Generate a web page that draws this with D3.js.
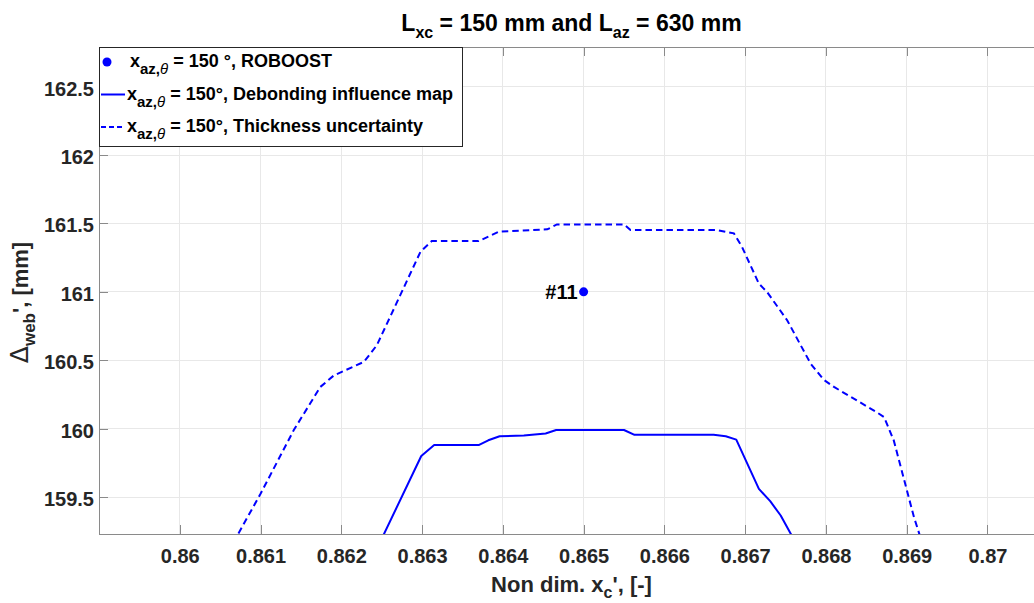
<!DOCTYPE html>
<html>
<head>
<meta charset="utf-8">
<script src="https://cdn.jsdelivr.net/npm/d3@7"></script>
<style>
  html, body { margin: 0; padding: 0; background: #fff; }
  svg { display: block; font-family: "Liberation Sans", Arial, Helvetica, sans-serif; }
</style>
</head>
<body>
<svg id="chart" width="1034" height="603"></svg>
<script>
// Axis limits and ticks
const xLimits = [0.859, 0.8707];
const yLimits = [159.23, 162.79];
const xTicks = [0.86, 0.861, 0.862, 0.863, 0.864, 0.865, 0.866, 0.867, 0.868, 0.869, 0.87];
const yTicks = [159.5, 160, 160.5, 161, 161.5, 162, 162.5];

// Debonding influence map, x_az,θ = 150°
const debondX = [0.8625, 0.86299, 0.86315, 0.8637, 0.86382, 0.86396, 0.86426, 0.86453, 0.86466,
                 0.8655, 0.86563, 0.86661, 0.86676, 0.86689, 0.86717, 0.86731, 0.86744, 0.86765];
const debondY = [159.195, 159.80, 159.88, 159.88, 159.915, 159.945, 159.95, 159.965, 159.99,
                 159.99, 159.955, 159.955, 159.944, 159.92, 159.56, 159.47, 159.365, 159.14];

// Thickness uncertainty envelope, x_az,θ = 150°
const thickX = [0.8606, 0.861, 0.86141, 0.86174, 0.86191, 0.86228, 0.86244, 0.86273, 0.86298, 0.86312,
                0.8637, 0.86395, 0.86455, 0.86467, 0.8655, 0.86558, 0.86665, 0.86686, 0.86696, 0.86717,
                0.86727, 0.86752, 0.86781, 0.86797, 0.8681, 0.86863, 0.86872, 0.86884, 0.86909, 0.8692];
const thickY = [159.10, 159.524, 159.988, 160.305, 160.39, 160.488, 160.61, 160.976, 161.293, 161.371,
                161.371, 161.44, 161.457, 161.493, 161.493, 161.452, 161.452, 161.428, 161.33, 161.06,
                161.0, 160.793, 160.476, 160.359, 160.305, 160.12, 160.085, 159.914, 159.353, 159.15];

// ROBOOST design point
const roboostX = [0.865];
const roboostY = [161];
const roboostLabels = ["#11"];

const blue = "#0000ff";
const axisGray = "#8a8a8a";
const textDark = "#262626";

const svg = d3.select("#chart");
const plot = { left: 99, right: 1044, top: 47, bottom: 534 };

const x = d3.scaleLinear().domain(xLimits).range([plot.left, plot.right]);
const y = d3.scaleLinear().domain(yLimits).range([plot.bottom, plot.top]);

svg.append("defs").append("clipPath").attr("id", "plotClip")
  .append("rect")
  .attr("x", plot.left).attr("y", plot.top)
  .attr("width", plot.right - plot.left).attr("height", plot.bottom - plot.top);

// Grid
const grid = svg.append("g").attr("class", "grid");
grid.selectAll("line.gx").data(xTicks).join("line")
  .attr("x1", d => x(d)).attr("x2", d => x(d))
  .attr("y1", plot.top).attr("y2", plot.bottom)
  .attr("stroke", "#e8e8e8").attr("stroke-width", 1).attr("shape-rendering", "crispEdges");
grid.selectAll("line.gy").data(yTicks).join("line")
  .attr("x1", plot.left).attr("x2", plot.right)
  .attr("y1", d => y(d)).attr("y2", d => y(d))
  .attr("stroke", "#e8e8e8").attr("stroke-width", 1).attr("shape-rendering", "crispEdges");

// Axes
function styleAxis(g) {
  g.select(".domain").attr("stroke", axisGray).attr("shape-rendering", "crispEdges");
  g.selectAll(".tick line").attr("stroke", axisGray).attr("shape-rendering", "crispEdges");
  g.selectAll(".tick text").attr("fill", textDark)
    .attr("font-size", 20).attr("font-weight", "bold")
    .attr("font-family", "Liberation Sans, Arial, sans-serif");
}

svg.append("g").attr("transform", `translate(0,${plot.bottom})`)
  .call(d3.axisBottom(x).tickValues(xTicks).tickSize(-9).tickSizeOuter(0).tickPadding(15)
        .tickFormat(d3.format("~g")))
  .call(styleAxis);

svg.append("g").attr("transform", `translate(0,${plot.top})`)
  .call(d3.axisTop(x).tickValues(xTicks).tickSize(-9).tickSizeOuter(0).tickFormat(""))
  .call(styleAxis);

svg.append("g").attr("transform", `translate(${plot.left},0)`)
  .call(d3.axisLeft(y).tickValues(yTicks).tickSize(-9).tickSizeOuter(0).tickPadding(5)
        .tickFormat(d3.format("~g")))
  .call(styleAxis)
  .call(g => g.selectAll(".tick text").attr("dy", "0.42em"));

// Series
const area = svg.append("g").attr("clip-path", "url(#plotClip)");
const line = d3.line().x(d => x(d[0])).y(d => y(d[1]));

area.append("path")
  .datum(debondX.map((v, i) => [v, debondY[i]]))
  .attr("d", line).attr("fill", "none")
  .attr("stroke", blue).attr("stroke-width", 2).attr("stroke-linejoin", "round");

area.append("path")
  .datum(thickX.map((v, i) => [v, thickY[i]]))
  .attr("d", line).attr("fill", "none")
  .attr("stroke", blue).attr("stroke-width", 2).attr("stroke-dasharray", "6.5,4");

area.selectAll("circle.pt").data(roboostX).join("circle")
  .attr("cx", d => x(d)).attr("cy", (d, i) => y(roboostY[i])).attr("r", 4.5)
  .attr("fill", blue);

area.selectAll("text.pt").data(roboostX).join("text")
  .attr("x", d => x(d) - 6).attr("y", (d, i) => y(roboostY[i]))
  .attr("dy", "0.36em").attr("text-anchor", "end")
  .attr("font-size", 20).attr("font-weight", "bold").attr("fill", "#000")
  .text((d, i) => roboostLabels[i]);

// Text with subscripts; a part may carry its own font settings
function rich(sel, parts, size, subSize, subShift) {
  parts.forEach(p => {
    const t = sel.append("tspan").text(p.t);
    t.attr("font-size", p.size || (p.sub ? subSize : size));
    if (p.sub) t.attr("baseline-shift", -subShift);
    if (p.weight) t.attr("font-weight", p.weight);
    if (p.family) t.attr("font-family", p.family);
    if (p.italic) t.attr("font-style", "italic");
  });
  return sel;
}

// Title
rich(svg.append("text")
  .attr("x", (plot.left + plot.right) / 2).attr("y", 31)
  .attr("text-anchor", "middle").attr("font-weight", "bold").attr("fill", "#000"),
  [{ t: "L" }, { t: "xc", sub: true }, { t: " = 150 mm and L" }, { t: "az", sub: true }, { t: " = 630 mm" }],
  23, 16, 7);

// X label
rich(svg.append("text")
  .attr("x", (plot.left + plot.right) / 2).attr("y", 592)
  .attr("text-anchor", "middle").attr("font-weight", "bold").attr("fill", textDark),
  [{ t: "Non dim. x" }, { t: "c", sub: true }, { t: "', [-]" }],
  22, 16, 6);

// Y label
rich(svg.append("text")
  .attr("transform", `translate(28,${(plot.top + plot.bottom) / 2 + 12}) rotate(-90)`)
  .attr("text-anchor", "middle").attr("font-weight", "bold").attr("fill", textDark),
  [{ t: "\u0394", size: 25, weight: "normal", family: "DejaVu Sans, sans-serif" },
   { t: "web", sub: true }, { t: "', [mm]" }],
  22, 17, 7);

// Legend
const legendItems = [
  { kind: "marker", text: " = 150 °, ROBOOST" },
  { kind: "solid", text: " = 150°, Debonding influence map" },
  { kind: "dashed", text: " = 150°, Thickness uncertainty" }
];
const legend = svg.append("g");
legend.append("rect")
  .attr("x", plot.left + 0.5).attr("y", plot.top + 0.5)
  .attr("width", 363).attr("height", 99)
  .attr("fill", "#fff").attr("stroke", "#262626").attr("stroke-width", 1);

legendItems.forEach((it, i) => {
  const cy = 62 + i * 32.5;
  if (it.kind === "marker") {
    legend.append("circle").attr("cx", plot.left + 8).attr("cy", cy).attr("r", 4.5).attr("fill", blue);
  } else {
    legend.append("line")
      .attr("x1", plot.left + 2).attr("x2", plot.left + 26)
      .attr("y1", cy).attr("y2", cy)
      .attr("stroke", blue).attr("stroke-width", 2)
      .attr("stroke-dasharray", it.kind === "dashed" ? "5,3" : null);
  }
  rich(legend.append("text")
    .attr("x", plot.left + (it.kind === "marker" ? 31 : 28)).attr("y", cy + 5)
    .attr("font-weight", "bold").attr("fill", "#000"),
    [{ t: "x" }, { t: "az,", sub: true }, { t: "\u03b8", sub: true, italic: true, weight: "normal" },
     { t: it.text }],
    18, 15, 7);
});
</script>
</body>
</html>
